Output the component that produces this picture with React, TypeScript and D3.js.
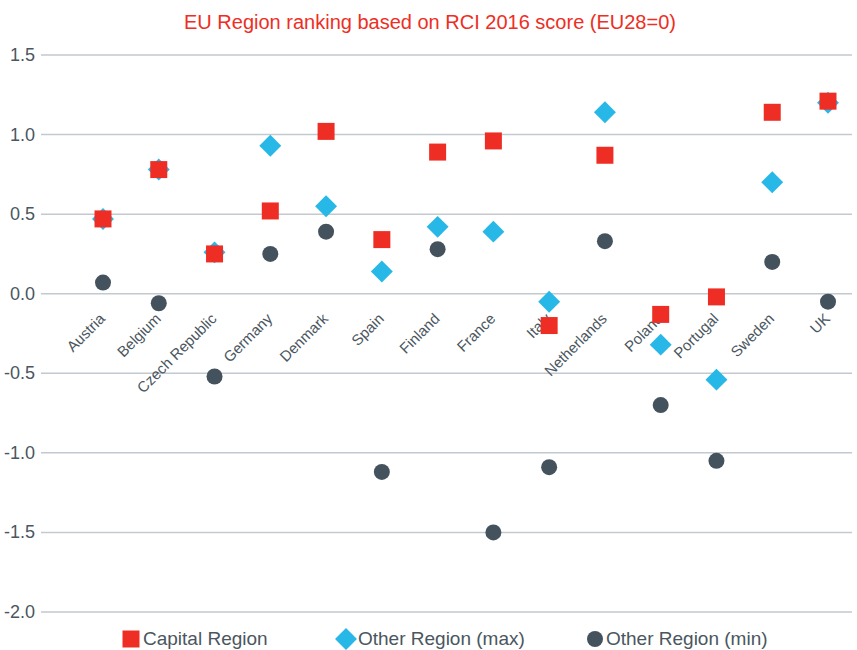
import React from 'react'
import * as d3 from 'd3'

const countries = ['Austria', 'Belgium', 'Czech Republic', 'Germany', 'Denmark', 'Spain', 'Finland', 'France', 'Italy', 'Netherlands', 'Poland', 'Portugal', 'Sweden', 'UK']
const capitalRegion = [0.47, 0.78, 0.25, 0.52, 1.02, 0.34, 0.89, 0.96, -0.2, 0.87, -0.13, -0.02, 1.14, 1.21]
const otherMax = [0.47, 0.78, 0.26, 0.93, 0.55, 0.14, 0.42, 0.39, -0.05, 1.14, -0.32, -0.54, 0.7, 1.2]
const otherMin = [0.07, -0.06, -0.52, 0.25, 0.39, -1.12, 0.28, -1.5, -1.09, 0.33, -0.7, -1.05, 0.2, -0.05]
const yTicks = [1.5, 1.0, 0.5, 0.0, -0.5, -1.0, -1.5, -2.0]
const legendLabels = ['Capital Region', 'Other Region (max)', 'Other Region (min)']

const RED = '#ee2e24'
const BLUE = '#27b8e8'
const DARK = '#44525d'
const TEXT = '#4a5660'

export default function App() {
  const width = 857
  const height = 650

  const x = d3.scalePoint<string>().domain(countries).range([103, 828])
  const y = d3.scaleLinear().domain([-2, 1.5]).range([612, 55])

  const square = d3.symbol().type(d3.symbolSquare).size(17 * 17)
  // diamond = square turned by 45 degrees
  const diamond = d3.symbol().type(d3.symbolSquare).size(15.5 * 15.5)
  const circle = d3.symbol().type(d3.symbolCircle).size(Math.PI * 8 * 8)

  const fmt = (t: number) => t.toFixed(1)
  const font = 'Liberation Sans, Arial, sans-serif'

  return (
    <svg width={width} height={height} style={{ position: 'absolute', left: 0, top: 0 }} fontFamily={font}>
      <rect width={width} height={height} fill="white" />
      <text x={430} y={29} textAnchor="middle" fill={RED} fontSize={20}>
        EU Region ranking based on RCI 2016 score (EU28=0)
      </text>

      {yTicks.map(t => (
        <g key={t}>
          <line x1={41} x2={852} y1={y(t)} y2={y(t)} stroke="#c3c9ce" strokeWidth={1.5} />
          <text x={35} y={y(t) + 6} textAnchor="end" fill={TEXT} fontSize={18}>
            {fmt(t)}
          </text>
        </g>
      ))}

      {countries.map(c => (
        <text
          key={c}
          transform={`translate(${x(c)! + 3},${y(0) + 26}) rotate(-45)`}
          textAnchor="end"
          fill={TEXT}
          fontSize={15}
        >
          {c}
        </text>
      ))}

      {otherMin.map((v, i) => (
        <path key={'min' + i} d={circle()!} fill={DARK} transform={`translate(${x(countries[i])},${y(v)})`} />
      ))}
      {otherMax.map((v, i) => (
        <path key={'max' + i} d={diamond()!} fill={BLUE} transform={`translate(${x(countries[i])},${y(v)}) rotate(45)`} />
      ))}
      {capitalRegion.map((v, i) => (
        <path key={'cap' + i} d={square()!} fill={RED} transform={`translate(${x(countries[i])},${y(v)})`} />
      ))}

      <g fontSize={19} fill={TEXT}>
        <path d={square()!} fill={RED} transform="translate(131,639)" />
        <text x={143} y={645}>{legendLabels[0]}</text>
        <path d={diamond()!} fill={BLUE} transform="translate(346,639) rotate(45)" />
        <text x={358} y={645}>{legendLabels[1]}</text>
        <path d={circle()!} fill={DARK} transform="translate(595,639)" />
        <text x={606} y={645}>{legendLabels[2]}</text>
      </g>
    </svg>
  )
}
